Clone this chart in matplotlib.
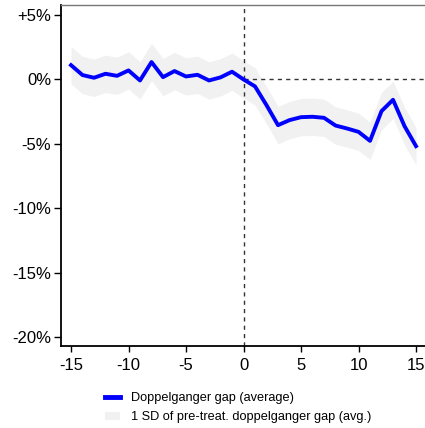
import numpy as np
import matplotlib.pyplot as plt
from matplotlib.patches import Patch
from matplotlib.lines import Line2D

plt.rcParams['font.family'] = ['Liberation Sans', 'DejaVu Sans']

# Event time relative to treatment
years = list(range(-15, 16))
# Average doppelganger gap (%)
gap = [1.11, 0.34, 0.13, 0.44, 0.28, 0.70, -0.08, 1.35, 0.18, 0.65, 0.23, 0.36,
       -0.08, 0.16, 0.60, 0.00, -0.54, -2.00, -3.55, -3.16, -2.93, -2.90, -2.98,
       -3.58, -3.81, -4.07, -4.77, -2.46, -1.58, -3.63, -5.18]
# One standard deviation of the pre-treatment gap (%)
sd_pre = 1.45

yticks = [5, 0, -5, -10, -15, -20]
ytick_labels = ['+5%', '0%', '-5%', '-10%', '-15%', '-20%']
xticks = [-15, -10, -5, 0, 5, 10, 15]

W, H = 425, 428
fig = plt.figure(figsize=(W / 100, H / 100), dpi=100)
ax = fig.add_axes([61 / W, (H - 346) / H, 1 - 61 / W, (346 - 5) / H])

g = np.array(gap)
ax.fill_between(years, g - sd_pre, g + sd_pre, color='#f1f1f1', lw=0, zorder=1)
ax.plot(years, gap, color='#0000ff', lw=2.8, solid_joinstyle='round', zorder=3)

ax.axvline(0, color='#333333', lw=1.0, ls=(0, (3, 3)), zorder=2)
ax.plot([0, 16], [0, 0], color='#333333', lw=1.0, ls=(0, (3, 3)), zorder=2)

ax.set_xlim(-15.87, 15.78)
ax.set_ylim(-20.7, 5.78)
ax.set_xticks(xticks)
ax.set_xticklabels([str(t) for t in xticks])
ax.set_yticks(yticks)
ax.set_yticklabels(ytick_labels)
ax.tick_params(axis='both', direction='out', width=1.0, labelsize=12, colors='black')
ax.tick_params(axis='x', length=4, pad=5)
ax.tick_params(axis='y', length=5, pad=2)

ax.spines['right'].set_visible(False)
ax.spines['top'].set_color('#777777')
ax.spines['top'].set_linewidth(1.0)
ax.spines['left'].set_linewidth(1.3)
ax.spines['bottom'].set_linewidth(1.3)

handles = [Line2D([0], [0], color='#0000ff', lw=3.5),
           Patch(facecolor='#f1f1f1', edgecolor='none')]
labels = ['Doppelganger gap (average)', '1 SD of pre-treat. doppelganger gap (avg.)']
fig.legend(handles, labels, loc='upper left', bbox_to_anchor=(100 / W, 1 - 387 / H),
           frameon=False, fontsize=9.2, handlelength=1.2, handleheight=0.6,
           handletextpad=0.8, labelspacing=0.55, borderaxespad=0)

fig.savefig('out.png', dpi=100)
